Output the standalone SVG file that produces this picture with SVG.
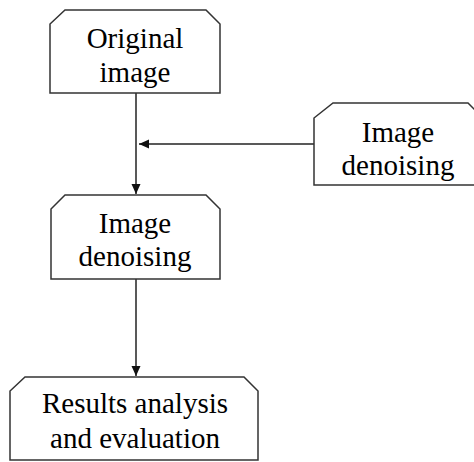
<svg xmlns="http://www.w3.org/2000/svg" width="474" height="462" viewBox="0 0 474 462">
<style>
.box{fill:#fff;stroke:#333;stroke-width:1.5}
.t{font-family:"Liberation Serif","Times New Roman",serif;font-size:29px;fill:#000;text-anchor:middle}
.c{stroke:#222;stroke-width:1.5;fill:none}
</style>
<defs>
<marker id="ah" markerWidth="11" markerHeight="10" refX="10" refY="4.5" orient="auto" markerUnits="userSpaceOnUse">
<path d="M0,0 L10,4.5 L0,9 Z" fill="#111"/>
</marker>
</defs>
<rect width="474" height="462" fill="#fff"/>
<g id="connectors">
<line class="c" x1="136" y1="93" x2="136" y2="194" marker-end="url(#ah)"/>
<line class="c" x1="314" y1="144" x2="139" y2="144" marker-end="url(#ah)"/>
<line class="c" x1="136" y1="279" x2="136" y2="376" marker-end="url(#ah)"/>
</g>
<g id="original">
<path class="box" d="M65,10 H206 L220,24 V93 H50 V24 Z"/>
<text class="t" x="135" y="48">Original</text>
<text class="t" x="135" y="82">image</text>
</g>
<g id="denoising-side">
<path class="box" d="M333,103 H468 L482,117 V185 H314 V118 Z"/>
<text class="t" x="398" y="142">Image</text>
<text class="t" x="398" y="175">denoising</text>
</g>
<g id="denoising">
<path class="box" d="M65,195 H206 L220,209 V279 H51 V209 Z"/>
<text class="t" x="135" y="233">Image</text>
<text class="t" x="135" y="266">denoising</text>
</g>
<g id="results">
<path class="box" d="M25,377 H244 L258,391 V460 H10 V391 Z"/>
<text class="t" x="135" y="413">Results analysis</text>
<text class="t" x="135" y="448">and evaluation</text>
</g>
</svg>
